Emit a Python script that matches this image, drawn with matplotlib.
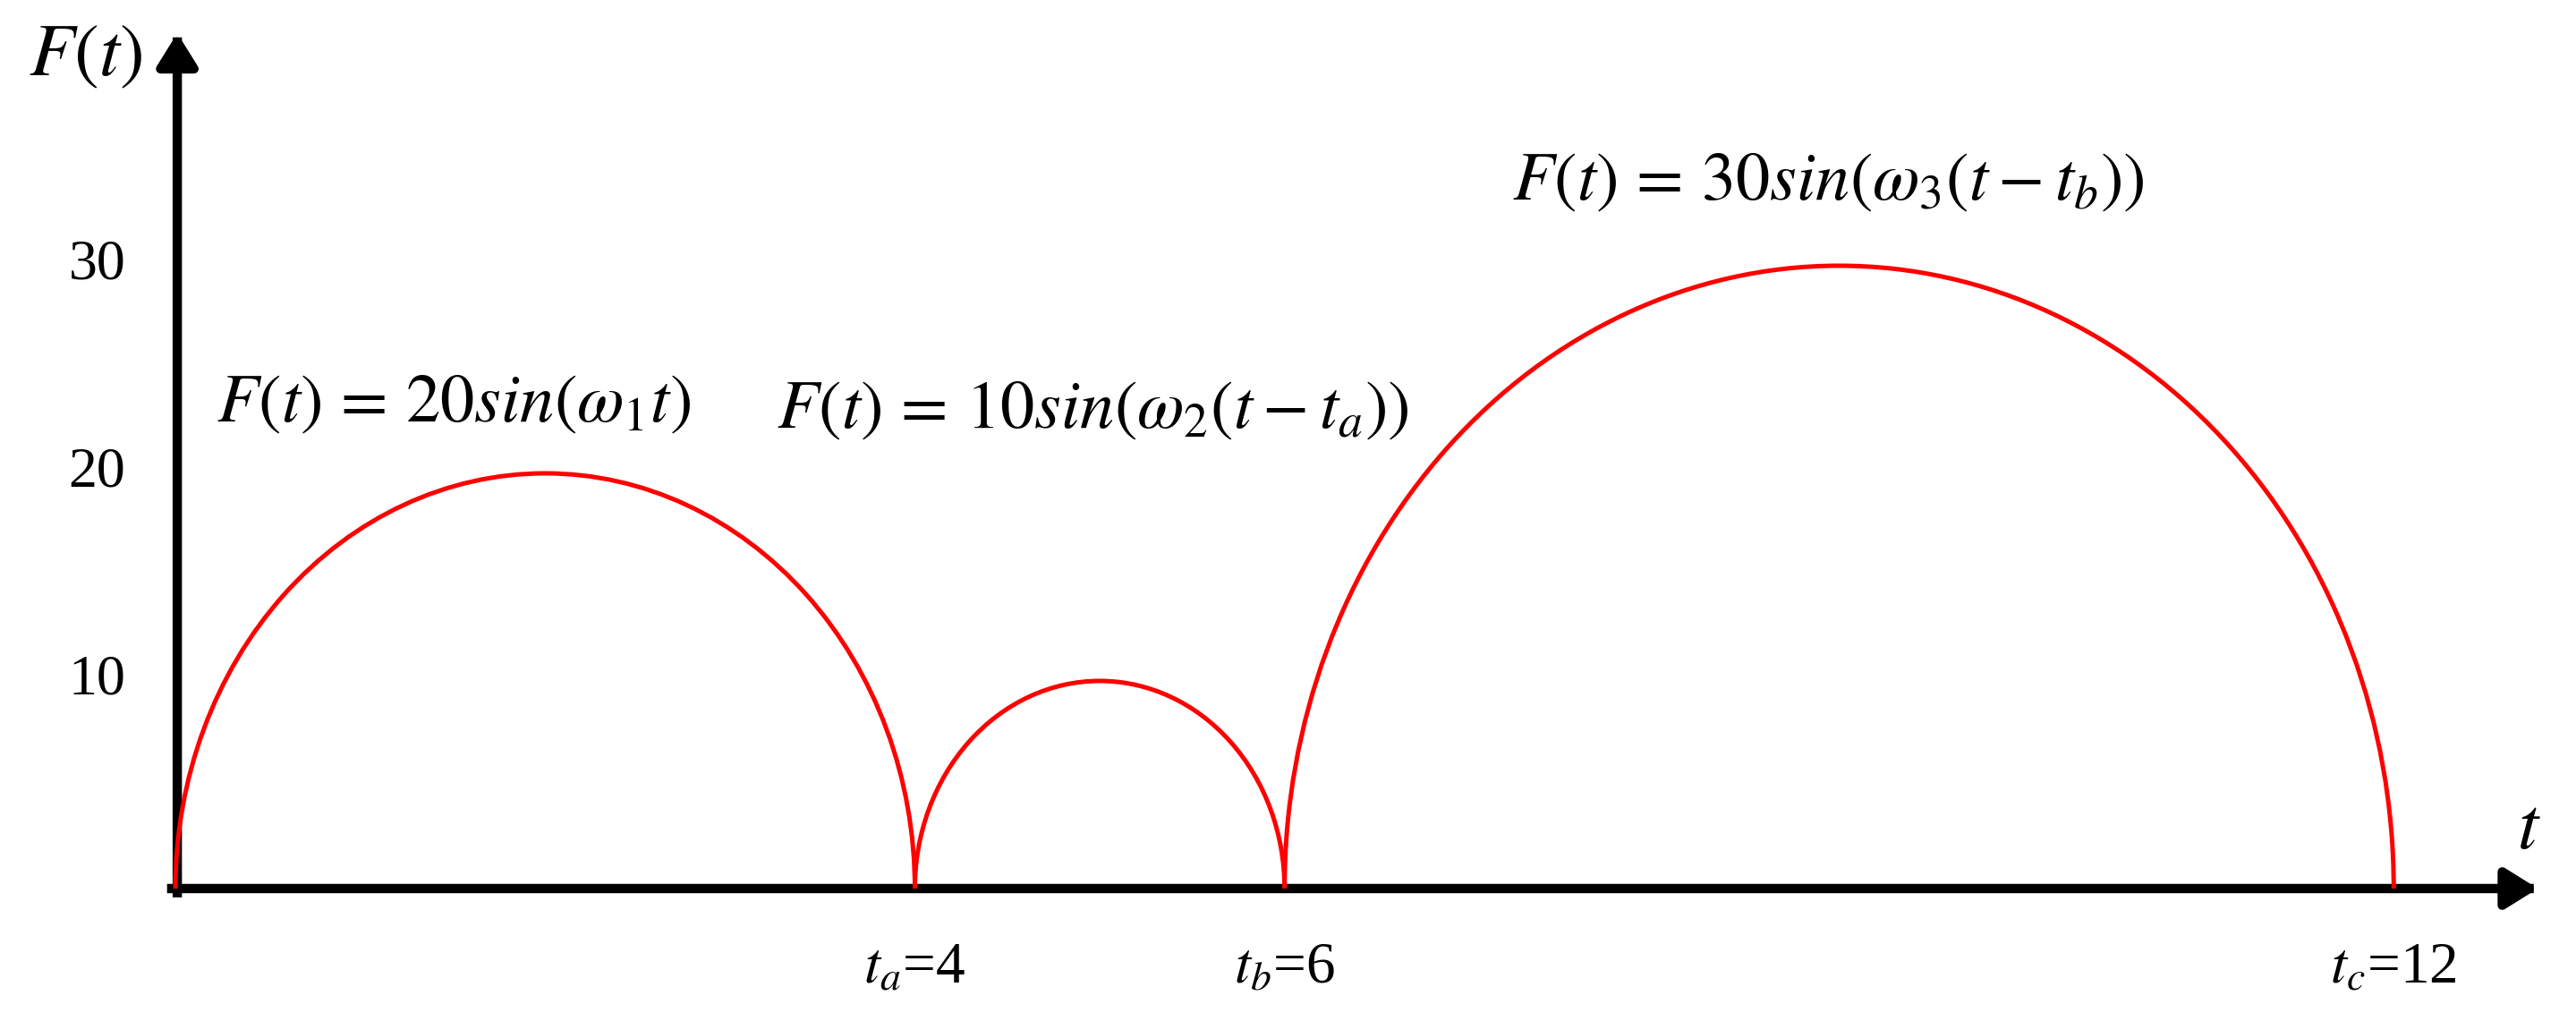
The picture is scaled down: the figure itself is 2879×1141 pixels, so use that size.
import matplotlib.pyplot as plt
from matplotlib.patches import Arc

plt.rcParams['mathtext.fontset'] = 'stix'
plt.rcParams['font.family'] = ['Liberation Serif', 'DejaVu Serif']

# segment boundaries (t) and amplitudes of each force pulse
t_start = [0, 4, 6]
t_end = [4, 6, 12]
amplitudes = [20, 10, 30]

y_ticks = [10, 20, 30]
boundary_ticks = [4, 6, 12]
boundary_labels = [r'$t_a$=4', r'$t_b$=6', r'$t_c$=12']

equations = [
    r'$F(t)\,=\,20sin(\omega_1 t)$',
    r'$F(t)\,=\,10sin\left(\omega_2(t-t_a)\right)$',
    r'$F(t)\,=\,30sin\left(\omega_3(t-t_b)\right)$',
]
eq_pos = [(0.22, 23.3), (3.25, 23.0), (7.23, 34.0)]

fig = plt.figure(figsize=(28.79, 11.41), dpi=100)
ax = fig.add_axes([0, 0, 1, 1])
ax.set_xlim(-0.949, 12.986)
ax.set_ylim(-6.38, 42.8)
ax.axis('off')

# axes drawn as arrows
axis_kw = dict(arrowstyle='-|>,head_length=0.45,head_width=0.28', lw=7.5,
               color='black', mutation_scale=48, shrinkA=0, shrinkB=0,
               capstyle='projecting')
ax.annotate('', xy=(12.78, 0), xytext=(-0.02, 0), arrowprops=axis_kw)
ax.annotate('', xy=(0.01, 41.2), xytext=(0.01, -0.2), arrowprops=axis_kw)

# half-period pulses
for a, b, amp in zip(t_start, t_end, amplitudes):
    arc = Arc(((a + b) / 2, 0), b - a, 2 * amp, theta1=0, theta2=180,
              color='#ff0000', lw=3.6, zorder=3)
    ax.add_patch(arc)

for v in y_ticks:
    ax.text(-0.27, v, str(v), ha='right', va='center', fontsize=46)

for x, lab in zip(boundary_ticks, boundary_labels):
    ax.text(x, -3.9, lab, ha='center', va='center', fontsize=47)

for (x, y), eq in zip(eq_pos, equations):
    ax.text(x, y, eq, ha='left', va='center', fontsize=55)

ax.text(-0.484, 40.0, r'$F(t)$', ha='center', va='center', fontsize=60)
ax.text(12.73, 2.8, r'$t$', ha='center', va='center', fontsize=60)

fig.savefig('out.png', dpi=100)
